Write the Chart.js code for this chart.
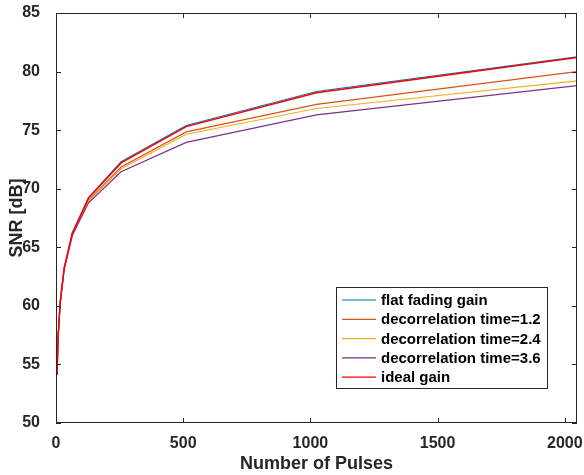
<!DOCTYPE html>
<html>
<head>
<meta charset="utf-8">
<script src="https://cdn.jsdelivr.net/npm/chart.js@4"></script>
<style>
  html, body { margin: 0; padding: 0; background: #fff; }
  #wrap { width: 584px; height: 475px; }
</style>
</head>
<body>
<div id="wrap"><canvas id="snrChart" width="584" height="475"></canvas></div>
<script>
const pulses = [4, 8, 16, 32, 64, 128, 256, 512, 1024, 2048];
const flatFading = [54.1, 57.2, 60.2, 63.2, 66.2, 69.25, 72.3, 75.4, 78.3, 81.25];
const decor12 = [54.1, 57.2, 60.2, 63.2, 66.1, 69.0, 71.85, 74.85, 77.2, 80.0];
const decor24 = [54.1, 57.2, 60.2, 63.2, 66.1, 68.95, 71.7, 74.65, 76.85, 79.2];
const decor36 = [54.1, 57.2, 60.1, 63.1, 66.0, 68.8, 71.45, 73.95, 76.3, 78.8];
const idealGain = [54.1, 57.2, 60.2, 63.2, 66.2, 69.2, 72.2, 75.3, 78.2, 81.2];

const xTicks = [0, 500, 1000, 1500, 2000];
const yTicks = [50, 55, 60, 65, 70, 75, 80, 85];

const seriesNames = ['flat fading gain', 'decorrelation time=1.2', 'decorrelation time=2.4', 'decorrelation time=3.6', 'ideal gain'];
const seriesData = [flatFading, decor12, decor24, decor36, idealGain];
const seriesColors = ['#0072BD', '#D95319', '#EDB120', '#7E2F8E', '#FF0000'];
const drawOrder = [4, 3, 2, 1, 0];

const axisColor = '#262626';
const fontFamily = '"Liberation Sans", Arial, Helvetica, sans-serif';

function toPoints(ys) {
  return pulses.map((x, i) => ({ x: x, y: ys[i] }));
}

// box around the plot with inward ticks on all four sides
const boxPlugin = {
  id: 'box',
  afterDraw(chart) {
    const ctx = chart.ctx;
    const a = chart.chartArea;
    const xs = chart.scales.x, ys = chart.scales.y;
    const tl = 5;
    ctx.save();
    ctx.strokeStyle = axisColor;
    ctx.lineWidth = 1;
    ctx.strokeRect(a.left + 0.5, a.top + 0.5, a.right - a.left - 1, a.bottom - a.top - 1);
    ctx.beginPath();
    xTicks.forEach(v => {
      const px = Math.round(xs.getPixelForValue(v)) + 0.5;
      ctx.moveTo(px, a.bottom); ctx.lineTo(px, a.bottom - tl);
      ctx.moveTo(px, a.top); ctx.lineTo(px, a.top + tl);
    });
    yTicks.forEach(v => {
      const py = Math.round(ys.getPixelForValue(v)) + 0.5;
      ctx.moveTo(a.left, py); ctx.lineTo(a.left + tl, py);
      ctx.moveTo(a.right, py); ctx.lineTo(a.right - tl, py);
    });
    ctx.stroke();
    ctx.restore();
  }
};

// legend box inside the plot, lower right
const legendPlugin = {
  id: 'insideLegend',
  afterDraw(chart) {
    const ctx = chart.ctx;
    const a = chart.chartArea;
    const left = a.right - 241, top = a.bottom - 136;
    const w = 211, h = 101, rowH = 19.3;
    ctx.save();
    ctx.fillStyle = '#fff';
    ctx.fillRect(left, top, w, h);
    ctx.strokeStyle = axisColor;
    ctx.lineWidth = 1;
    ctx.strokeRect(left + 0.5, top + 0.5, w, h);
    ctx.font = 'bold 15px ' + fontFamily;
    ctx.textBaseline = 'middle';
    seriesNames.forEach((name, i) => {
      const y = top + 13 + i * rowH;
      ctx.strokeStyle = seriesColors[i];
      ctx.lineWidth = 1.2;
      ctx.beginPath();
      ctx.moveTo(left + 6, y); ctx.lineTo(left + 40, y);
      ctx.stroke();
      ctx.fillStyle = '#000';
      ctx.fillText(name, left + 45, y + 1);
    });
    ctx.restore();
  }
};

new Chart(document.getElementById('snrChart'), {
  type: 'line',
  data: {
    datasets: seriesNames.map((name, i) => ({
      label: name,
      data: toPoints(seriesData[i]),
      borderColor: seriesColors[i],
      borderWidth: i === 4 ? 1.5 : 1.2,
      pointRadius: 0,
      tension: 0,
      fill: false,
      order: drawOrder[i]
    }))
  },
  options: {
    responsive: false,
    animation: false,
    layout: { padding: { top: 13, right: 7, bottom: 0, left: 0 } },
    plugins: { legend: { display: false }, tooltip: { enabled: false } },
    scales: {
      x: {
        type: 'linear',
        min: 0,
        max: 2048,
        afterBuildTicks: s => { s.ticks = xTicks.map(v => ({ value: v })); },
        afterFit: s => { s.height = 52; s.paddingLeft = 0; s.paddingRight = 0; },
        grid: { display: false },
        border: { display: false },
        ticks: {
          color: axisColor,
          font: { family: fontFamily, size: 16, weight: 'bold' },
          padding: 3,
          maxRotation: 0,
          callback: v => String(v)
        },
        title: { display: true, text: 'Number of Pulses', color: axisColor, font: { family: fontFamily, size: 18, weight: 'bold' }, padding: { top: 0, bottom: 0 } }
      },
      y: {
        min: 50,
        max: 85,
        afterBuildTicks: s => { s.ticks = yTicks.map(v => ({ value: v })); },
        afterFit: s => { s.width = 56; s.paddingTop = 0; s.paddingBottom = 0; },
        grid: { display: false },
        border: { display: false },
        ticks: { color: axisColor, font: { family: fontFamily, size: 16, weight: 'bold' }, padding: 8 },
        title: { display: true, text: 'SNR [dB]', color: axisColor, font: { family: fontFamily, size: 18, weight: 'bold' }, padding: { top: 6, bottom: 0 } }
      }
    }
  },
  plugins: [boxPlugin, legendPlugin]
});
</script>
</body>
</html>
